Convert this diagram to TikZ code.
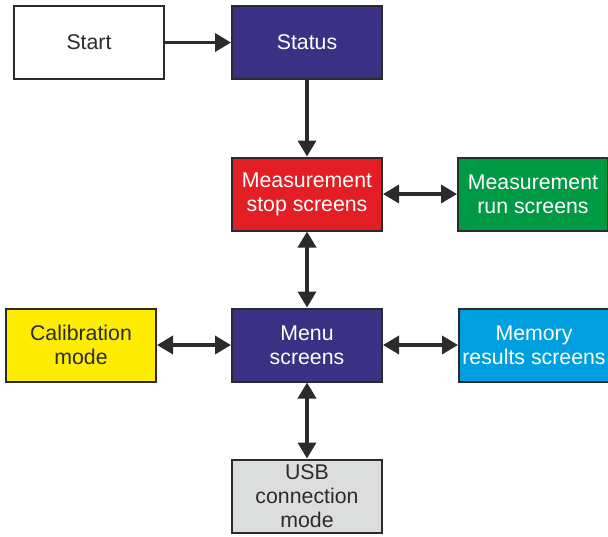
\documentclass[tikz,border=0pt]{standalone}
\usepackage{fontspec}
\setmainfont{Liberation Sans}
\usetikzlibrary{arrows.meta}

\definecolor{boxline}{HTML}{2B2B2B}
\definecolor{darkblue}{HTML}{3A3185}
\definecolor{stopred}{HTML}{E31E24}
\definecolor{rungreen}{HTML}{009A44}
\definecolor{calyellow}{HTML}{FFED00}
\definecolor{memblue}{HTML}{00A0E0}
\definecolor{usbgray}{HTML}{DCDDDD}

\begin{document}
\begin{tikzpicture}[x=1pt,y=-1pt]
\useasboundingbox (0,0) rectangle (608,536);
\begin{scope}[every node/.style={rectangle,draw=boxline,line width=2pt,
              minimum width=150pt,minimum height=73pt,align=center,
              font=\fontsize{21.3}{24}\selectfont,inner sep=0pt}]
    \node[fill=white,text=boxline] (start) at (89,42.5) {Start};
    \node[fill=darkblue,text=white] (status) at (307,42.5) {Status};
    \node[fill=stopred,text=white] (stop) at (307,194) {Measurement\\stop screens};
    \node[fill=rungreen,text=white] (run) at (533,194) {Measurement\\run screens};
    \node[fill=calyellow,text=boxline] (calib) at (81,345) {Calibration\\mode};
    \node[fill=darkblue,text=white] (menu) at (307,345) {Menu\\screens};
    \node[fill=memblue,text=white] (memory) at (534,345) {Memory\\results screens};
    \node[fill=usbgray,text=boxline] (usb) at (307,496) {USB\\connection\\mode};
\end{scope}
\begin{scope}[every edge/.style={draw=boxline,line width=3.5pt,
              arrows={-Triangle[length=16pt,width=18pt]}}]
    \path (start) edge (status);
    \path (status) edge (stop);
    \path (stop) edge[arrows={Triangle[length=16pt,width=18pt]-Triangle[length=16pt,width=18pt]}] (run);
    \path (stop) edge[arrows={Triangle[length=16pt,width=18pt]-Triangle[length=16pt,width=18pt]}] (menu);
    \path (menu) edge[arrows={Triangle[length=16pt,width=18pt]-Triangle[length=16pt,width=18pt]}] (calib);
    \path (menu) edge[arrows={Triangle[length=16pt,width=18pt]-Triangle[length=16pt,width=18pt]}] (memory);
    \path (menu) edge[arrows={Triangle[length=16pt,width=18pt]-Triangle[length=16pt,width=18pt]}] (usb);
\end{scope}
\end{tikzpicture}
\end{document}
